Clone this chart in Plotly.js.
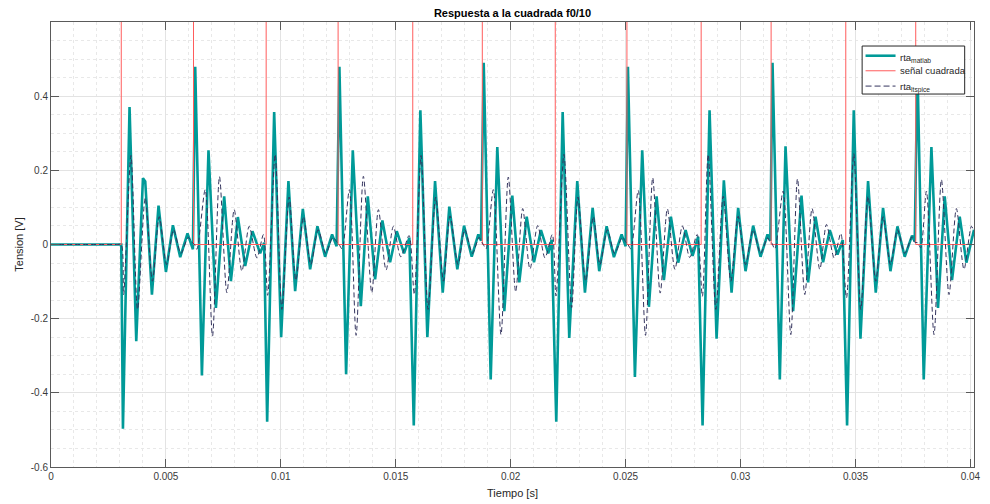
<!DOCTYPE html>
<html>
<head>
<meta charset="utf-8">
<script src="https://cdn.plot.ly/plotly-3.0.1.min.js"></script>
<style>html,body{margin:0;padding:0;background:#fff;}#chart{width:990px;height:504px;}</style>
</head>
<body>
<div id="chart"></div>
<script>
// ---- data (time in seconds, voltage in volts) ----
var tMatlab = [0, 0.003057,
 0.003130, 0.003417, 0.003709, 0.004000, 0.004100, 0.004391, 0.004678, 0.005000, 0.005304, 0.005622, 0.005939, 0.006174,
 0.006274, 0.006565, 0.006852, 0.007174, 0.007535, 0.007826, 0.008130, 0.008448, 0.008765, 0.009100, 0.009274,
 0.009404, 0.009709, 0.010013, 0.010330, 0.010622, 0.010957, 0.011274, 0.011591, 0.011926, 0.012230, 0.012426,
 0.012548, 0.012839, 0.013130, 0.013478, 0.013783, 0.014100, 0.014417, 0.014752, 0.015043, 0.015361, 0.015591,
 0.015783, 0.016070, 0.016374, 0.016709, 0.017043, 0.017330, 0.017678, 0.017970, 0.018304, 0.018591, 0.018709,
 0.018826, 0.019130, 0.019417, 0.019722, 0.020070, 0.020374, 0.020696, 0.021013, 0.021317, 0.021635, 0.021783,
 0.021983, 0.022261, 0.022548, 0.022896, 0.023230, 0.023565, 0.023852, 0.024174, 0.024491, 0.024826, 0.025000,
 0.025100, 0.025404, 0.025722, 0.026013, 0.026348, 0.026665, 0.026970, 0.027287, 0.027609, 0.027913, 0.028157,
 0.028348, 0.028652, 0.028957, 0.029274, 0.029609, 0.029896, 0.030217, 0.030548, 0.030870, 0.031174, 0.031296,
 0.031391, 0.031709, 0.031957, 0.032287, 0.032652, 0.032939, 0.033261, 0.033591, 0.033883, 0.034217, 0.034448,
 0.034635, 0.034926, 0.035217, 0.035548, 0.035883, 0.036200, 0.036522, 0.036826, 0.037143, 0.037461, 0.037578,
 0.037696, 0.037970, 0.038304, 0.038591, 0.038883, 0.039200, 0.039535, 0.039826, 0.040157];

var vMatlab = [0, 0,
 -0.497, 0.371, -0.261, 0.179, 0.170, -0.135, 0.105, -0.074, 0.052, -0.034, 0.030, -0.013,
 0.479, -0.353, 0.254, -0.171, 0.130, -0.099, 0.074, -0.058, 0.036, -0.024, 0.005,
 -0.478, 0.357, -0.250, 0.171, -0.126, 0.096, -0.067, 0.049, -0.033, 0.027, -0.005,
 0.479, -0.350, 0.254, -0.166, 0.130, -0.094, 0.065, -0.048, 0.036, -0.024, 0.018,
 -0.488, 0.362, -0.250, 0.171, -0.130, 0.102, -0.067, 0.051, -0.033, 0.027, 0.010,
 0.490, -0.364, 0.263, -0.180, 0.132, -0.102, 0.075, -0.048, 0.039, -0.024, 0.013,
 -0.478, 0.357, -0.252, 0.171, -0.130, 0.099, -0.072, 0.049, -0.034, 0.027, -0.005,
 0.479, -0.357, 0.254, -0.168, 0.130, -0.096, 0.075, -0.049, 0.039, -0.031, 0.021,
 -0.488, 0.362, -0.254, 0.173, -0.130, 0.099, -0.072, 0.051, -0.033, 0.027, 0.010,
 0.490, -0.364, 0.265, -0.180, 0.132, -0.102, 0.075, -0.048, 0.039, -0.027, 0.012,
 -0.488, 0.362, -0.254, 0.171, -0.130, 0.099, -0.072, 0.049, -0.033, 0.024, 0.008,
 0.480, -0.364, 0.263, -0.171, 0.130, -0.096, 0.075, -0.049, 0.040];

var tLtspice = [0, 0.002900, 0.003057,
 0.003157, 0.003478, 0.003765, 0.004100, 0.004413, 0.004709, 0.005030, 0.005335, 0.005652, 0.005970, 0.006144,
 0.006244, 0.006348, 0.006709, 0.007026, 0.007330, 0.007652, 0.007970, 0.008304, 0.008622, 0.008957, 0.009244,
 0.009426, 0.009752, 0.010044, 0.010361, 0.010652, 0.010987, 0.011304, 0.011622, 0.011957, 0.012261, 0.012448,
 0.012535, 0.012665, 0.012983, 0.013274, 0.013591, 0.013957, 0.014244, 0.014578, 0.014896, 0.015217, 0.015578,
 0.015804, 0.016100, 0.016404, 0.016739, 0.017074, 0.017361, 0.017709, 0.018000, 0.018335, 0.018622, 0.018730,
 0.018809, 0.018926, 0.019244, 0.019578, 0.019896, 0.020217, 0.020522, 0.020839, 0.021174, 0.021491, 0.021809,
 0.021970, 0.022317, 0.022652, 0.022926, 0.023261, 0.023596, 0.023883, 0.024204, 0.024522, 0.024857, 0.025013,
 0.025100, 0.025230, 0.025548, 0.025865, 0.026178, 0.026504, 0.026817, 0.027144, 0.027470, 0.027787, 0.028113,
 0.028339, 0.028591, 0.028926, 0.029244, 0.029578, 0.029896, 0.030217, 0.030548, 0.030870, 0.031174, 0.031296,
 0.031348, 0.031491, 0.031852, 0.032187, 0.032478, 0.032796, 0.033113, 0.033448, 0.033739, 0.034070, 0.034361,
 0.034609, 0.034926, 0.035230, 0.035548, 0.035883, 0.036200, 0.036522, 0.036826, 0.037144, 0.037461, 0.037578,
 0.037696, 0.037839, 0.038087, 0.038417, 0.038739, 0.039070, 0.039391, 0.039722, 0.040044, 0.040157];

var vLtspice = [0, 0, 0,
 -0.135, 0.240, -0.175, 0.126, -0.099, 0.075, -0.054, 0.040, -0.024, 0.019, 0.006,
 0.000, -0.013, 0.148, -0.247, 0.183, -0.130, 0.094, -0.072, 0.049, -0.036, 0.027,
 -0.137, 0.243, -0.175, 0.128, -0.097, 0.075, -0.054, 0.040, -0.024, 0.019, 0.006,
 0.000, -0.012, 0.148, -0.245, 0.184, -0.130, 0.094, -0.069, 0.049, -0.033, 0.024,
 -0.135, 0.240, -0.175, 0.128, -0.099, 0.077, -0.054, 0.040, -0.024, 0.019, 0.008,
 0.000, -0.012, 0.148, -0.243, 0.182, -0.128, 0.097, -0.066, 0.051, -0.036, 0.027,
 -0.139, 0.243, -0.170, 0.128, -0.099, 0.075, -0.054, 0.040, -0.024, 0.019, 0.006,
 0.000, -0.012, 0.146, -0.245, 0.180, -0.131, 0.096, -0.067, 0.050, -0.035, 0.027,
 -0.140, 0.243, -0.175, 0.130, -0.099, 0.076, -0.054, 0.040, -0.024, 0.018, 0.005,
 0.005, -0.012, 0.144, -0.243, 0.177, -0.135, 0.097, -0.067, 0.054, -0.036, 0.030,
 -0.144, 0.245, -0.175, 0.130, -0.099, 0.075, -0.054, 0.040, -0.024, 0.021, 0.006,
 0.005, -0.009, 0.144, -0.243, 0.175, -0.135, 0.097, -0.067, 0.049, 0.035];

// square wave: edge times and levels (high level is off the top of the plot)
var tSquare = [0, 0.003057, 0.006200, 0.009361, 0.012491, 0.015739, 0.018765, 0.021939, 0.025057, 0.028287, 0.031330, 0.034578, 0.037622, 0.040157];
var vSquare = [0, 1, 0, 1, 0, 1, 0, 1, 0, 1, 0, 1, 0, 0];

var xTickVals = [0, 0.005, 0.01, 0.015, 0.02, 0.025, 0.03, 0.035, 0.04];
var xTickText = ['0', '0.005', '0.01', '0.015', '0.02', '0.025', '0.03', '0.035', '0.04'];
var yTickVals = [-0.6, -0.4, -0.2, 0, 0.2, 0.4];
var yTickText = ['-0.6', '-0.4', '-0.2', '0', '0.2', '0.4'];

var seriesNames = ['rta<sub>matlab</sub>', 'señal cuadrada', 'rta<sub>ltspice</sub>'];
var seriesColors = ['#009a98', '#ff5c5c', '#34345e'];

var FONT = 'Liberation Sans, Arial, Helvetica, sans-serif';

var lineStyles = [
  {color: seriesColors[0], width: 2.6},
  {color: seriesColors[1], width: 1, shape: 'hv'},
  {color: seriesColors[2], width: 1, dash: '5px,3px', shape: 'spline', smoothing: 0.8}
];

var traces = [
  {x: tMatlab, y: vMatlab, type: 'scatter', mode: 'lines', name: seriesNames[0], line: lineStyles[0]},
  {x: tSquare, y: vSquare, type: 'scatter', mode: 'lines', name: seriesNames[1], line: lineStyles[1]},
  {x: tLtspice, y: vLtspice, type: 'scatter', mode: 'lines', name: seriesNames[2], line: lineStyles[2]}
];

// MATLAB-style compact legend box (paper coordinates)
var legBox = {x0: 0.8788, x1: 0.9899, y0: 0.8381, y1: 0.9460};
var legRows = [0.9242, 0.8904, 0.8560];
var legSample = [0.8825, 0.9150];
var legTextX = 0.9178;

var shapes = [{type: 'rect', xref: 'paper', yref: 'paper', x0: legBox.x0, x1: legBox.x1, y0: legBox.y0, y1: legBox.y1,
               fillcolor: '#ffffff', line: {color: '#262626', width: 1}, layer: 'above'}];
var annotations = [];
for (var i = 0; i < 3; i++) {
  shapes.push({type: 'line', xref: 'paper', yref: 'paper', x0: legSample[0], x1: legSample[1], y0: legRows[i], y1: legRows[i],
               line: {color: lineStyles[i].color, width: i === 0 ? 2.6 : 1, dash: i === 2 ? '6px,3px' : 'solid'}, layer: 'above'});
  annotations.push({xref: 'paper', yref: 'paper', x: legTextX, y: legRows[i] - (i === 1 ? 0 : 0.004), xanchor: 'left', yanchor: 'middle',
                    text: seriesNames[i], showarrow: false, font: {family: FONT, size: 9.5, color: '#262626'}});
}

var axisCommon = {
  showline: true, linecolor: '#5a5a5a', linewidth: 1, mirror: 'ticks',
  ticks: 'inside', ticklen: 8, tickcolor: '#5a5a5a', tickwidth: 1,
  showgrid: true, gridcolor: '#e3e3e3', gridwidth: 1, zeroline: false,
  tickfont: {family: FONT, size: 10, color: '#3a3a3a'}
};

var layout = {
  width: 990, height: 504, autosize: false,
  paper_bgcolor: '#ffffff', plot_bgcolor: '#ffffff',
  margin: {l: 51, r: 16, t: 22, b: 37, pad: 0},
  font: {family: FONT, size: 10, color: '#262626'},
  title: {text: '<b>Respuesta a la cuadrada f0/10</b>', font: {family: FONT, size: 11, color: '#000000'},
          xref: 'paper', x: 0.5, xanchor: 'center', yref: 'container', y: 0.974, yanchor: 'middle'},
  xaxis: Object.assign({}, axisCommon, {
    range: [0, 0.040157], tickmode: 'array', tickvals: xTickVals, ticktext: xTickText,
    minor: {tickmode: 'linear', tick0: 0, dtick: 0.001, showgrid: true, gridcolor: '#e8e8e8', griddash: 'dot', gridwidth: 1, ticks: ''},
    title: {text: 'Tiempo [s]', font: {family: FONT, size: 11, color: '#262626'}, standoff: 8}
  }),
  yaxis: Object.assign({}, axisCommon, {
    range: [-0.6, 0.6], tickmode: 'array', tickvals: yTickVals, ticktext: yTickText,
    minor: {tickmode: 'linear', tick0: 0, dtick: 0.05, showgrid: true, gridcolor: '#e8e8e8', griddash: 'dot', gridwidth: 1, ticks: ''},
    title: {text: 'Tension [V]', font: {family: FONT, size: 11, color: '#262626'}, standoff: 4}
  }),
  showlegend: false,
  shapes: shapes,
  annotations: annotations
};

Plotly.newPlot('chart', traces, layout, {staticPlot: true, displayModeBar: false});
</script>
</body>
</html>
